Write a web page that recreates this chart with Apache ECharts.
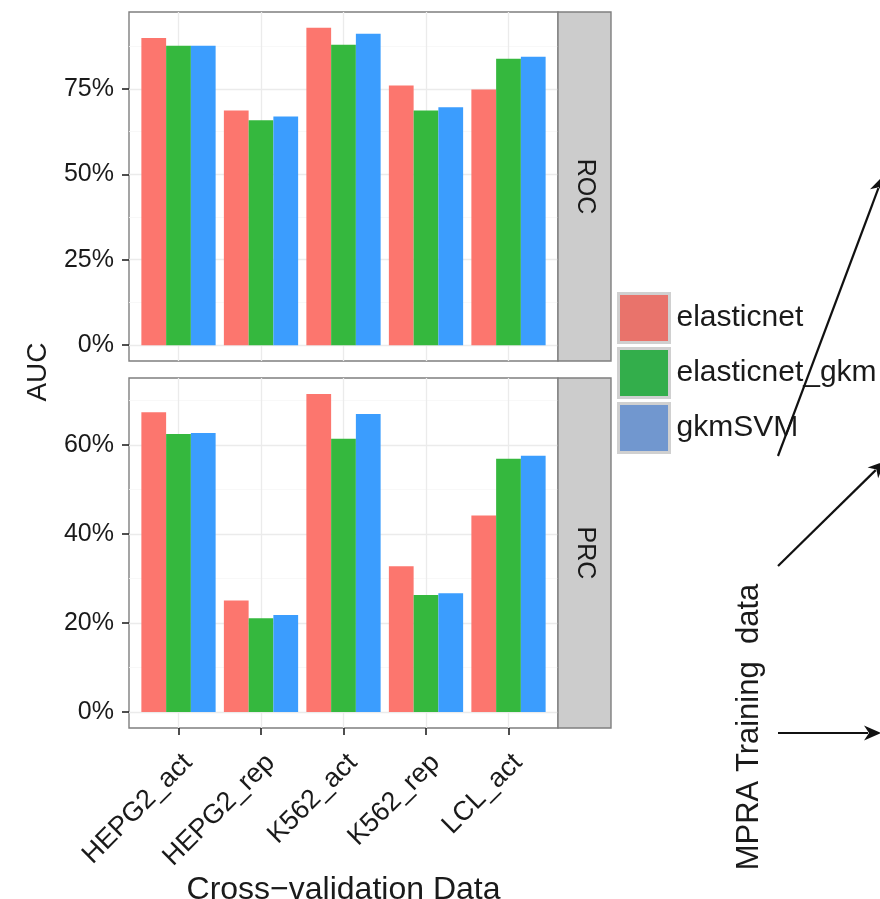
<!DOCTYPE html>
<html><head><meta charset="utf-8">
<script src="https://cdn.jsdelivr.net/npm/echarts@6/dist/echarts.min.js"></script>
<style>html,body{margin:0;padding:0;background:#fff}#chart{width:880px;height:899px}</style>
</head><body><div id="chart"></div>
<script>
// ---- data ----
const categories = ['HEPG2_act', 'HEPG2_rep', 'K562_act', 'K562_rep', 'LCL_act'];
const seriesNames = ['elasticnet', 'elasticnet_gkm', 'gkmSVM'];
const facetLabels = ['ROC', 'PRC'];
const rocElasticnet    = [89.9, 68.7, 92.9, 76.0, 74.8];
const rocElasticnetGkm = [87.6, 65.8, 87.9, 68.7, 83.8];
const rocGkmSVM        = [87.6, 66.9, 91.1, 69.6, 84.4];
const prcElasticnet    = [67.4, 25.1, 71.5, 32.8, 44.2];
const prcElasticnetGkm = [62.5, 21.1, 61.4, 26.3, 56.9];
const prcGkmSVM        = [62.7, 21.8, 67.0, 26.7, 57.6];
const rocTicks = [0, 25, 50, 75];
const rocMinorTicks = [12.5, 37.5, 62.5, 87.5];
const prcTicks = [0, 20, 40, 60];
const prcMinorTicks = [10, 30, 50, 70];
const xTitle = 'Cross\u2212validation Data';
const yTitle = 'AUC';
const sideLabel = 'MPRA Training  data';

// ---- styling ----
const FONT = 'Liberation Sans';
const TXT = '#1a1a1a';
const barColors = ['#FC766E', '#35B83E', '#3B9DFE'];
const legendColors = ['#E9736B', '#33AE4B', '#7197CF'];

const panels = [
  { top: 12,  height: 349, min: -4.64, max: 97.5,  ticks: rocTicks, minor: rocMinorTicks,
    data: [rocElasticnet, rocElasticnetGkm, rocGkmSVM], label: facetLabels[0] },
  { top: 378, height: 350, min: -3.57, max: 75.07, ticks: prcTicks, minor: prcMinorTicks,
    data: [prcElasticnet, prcElasticnetGkm, prcGkmSVM], label: facetLabels[1] }
];

const PANEL_LEFT = 129, PANEL_W = 429, STRIP_W = 53;
const band = PANEL_W / (categories.length + 0.2);
const innerLeft = PANEL_LEFT + 0.1 * band;
const innerW = band * categories.length;
const catIdx = categories.map((c, k) => k);

const grid = [], xAxis = [], yAxis = [], series = [], graphic = [];

panels.forEach((p, i) => {
  const isBottom = i === panels.length - 1;
  grid.push({ left: PANEL_LEFT, top: p.top, width: PANEL_W, height: p.height, show: true,
    backgroundColor: '#fff', borderColor: '#7F7F7F', borderWidth: 1.4, outerBoundsMode: 'none', containLabel: false });
  grid.push({ left: innerLeft, top: p.top, width: innerW, height: p.height, show: false,
    outerBoundsMode: 'none', containLabel: false });

  // frame x-axis: vertical gridlines at category centres
  xAxis.push({ gridIndex: 2 * i, type: 'value', min: -0.6, max: categories.length - 0.4, position: 'bottom',
    axisLine: { show: false, onZero: false }, axisTick: { show: false, customValues: catIdx },
    axisLabel: { show: false, customValues: catIdx },
    splitLine: { show: true, lineStyle: { color: '#EBEBEB', width: 1.3 } } });
  // bar x-axis
  xAxis.push({ gridIndex: 2 * i + 1, type: 'category', data: categories, boundaryGap: true, position: 'bottom',
    axisLine: { show: false, onZero: false },
    axisTick: { show: isBottom, alignWithLabel: true, length: 7, lineStyle: { color: '#222', width: 1.6 } },
    axisLabel: { show: isBottom, interval: 0, rotate: 45, align: 'right', verticalAlign: 'top', margin: 21,
      fontSize: 27, color: TXT, fontFamily: FONT },
    splitLine: { show: false },
    name: isBottom ? xTitle : '', nameLocation: 'middle', nameGap: 133,
    nameTextStyle: { fontSize: 32, color: TXT, fontFamily: FONT } });

  // major y
  yAxis.push({ gridIndex: 2 * i, type: 'value', min: p.min, max: p.max, position: 'left',
    axisLine: { show: false, onZero: false },
    axisTick: { show: true, length: 7, customValues: p.ticks, lineStyle: { color: '#222', width: 1.6 } },
    axisLabel: { customValues: p.ticks, formatter: '{value}%', fontSize: 25, color: TXT, margin: 15, fontFamily: FONT },
    splitLine: { show: true, lineStyle: { color: '#EBEBEB', width: 1.3 } }, z: 1 });
  // minor y
  yAxis.push({ gridIndex: 2 * i, type: 'value', min: p.min, max: p.max, position: 'right',
    axisLine: { show: false, onZero: false }, axisTick: { show: false, customValues: p.minor },
    axisLabel: { show: false, customValues: p.minor },
    splitLine: { show: true, lineStyle: { color: '#F6F6F6', width: 0.8 } }, z: 0 });
  // bar y
  yAxis.push({ gridIndex: 2 * i + 1, type: 'value', min: p.min, max: p.max, show: false });

  p.data.forEach((vals, s) => {
    series.push({ type: 'bar', name: seriesNames[s], xAxisIndex: 2 * i + 1, yAxisIndex: 3 * i + 2,
      data: vals, itemStyle: { color: barColors[s] }, barGap: '0%', barCategoryGap: '10%',
      animation: false, silent: true });
  });

  // facet strip
  graphic.push({ type: 'rect', z: 5, shape: { x: PANEL_LEFT + PANEL_W, y: p.top, width: STRIP_W, height: p.height },
    style: { fill: '#CCCCCC', stroke: '#7F7F7F', lineWidth: 1.4 } });
  graphic.push({ type: 'text', z: 6, x: PANEL_LEFT + PANEL_W + STRIP_W / 2, y: p.top + p.height / 2,
    rotation: -Math.PI / 2,
    style: { text: p.label, fontSize: 25, fontFamily: FONT, fill: TXT, align: 'center', verticalAlign: 'middle' } });
});

// y title
graphic.push({ type: 'text', z: 6, x: 38, y: 372, rotation: Math.PI / 2,
  style: { text: yTitle, fontSize: 28, fontFamily: FONT, fill: TXT, align: 'center', verticalAlign: 'middle' } });
// side annotation
graphic.push({ type: 'text', z: 6, x: 749, y: 727, rotation: Math.PI / 2,
  style: { text: sideLabel, fontSize: 31, fontFamily: FONT, fill: TXT, align: 'center', verticalAlign: 'middle' } });

// arrows (annotation)
const arrows = [[778, 456, 883, 176], [778, 566, 885, 461], [778, 733, 881, 733]];
arrows.forEach(a => {
  const [x1, y1, x2, y2] = a;
  const dx = x2 - x1, dy = y2 - y1, L = Math.hypot(dx, dy);
  const ux = dx / L, uy = dy / L, hl = 17, hw = 7.5;
  const bx = x2 - ux * hl, by = y2 - uy * hl;
  graphic.push({ type: 'line', z: 6, shape: { x1, y1, x2: bx + ux * 4, y2: by + uy * 4 },
    style: { stroke: '#111', lineWidth: 2.2 } });
  graphic.push({ type: 'polygon', z: 6, shape: { points: [[x2, y2], [bx - uy * hw, by + ux * hw], [bx + ux * 5, by + uy * 5], [bx + uy * hw, by - ux * hw]] },
    style: { fill: '#111' } });
});

const option = {
  backgroundColor: '#fff',
  animation: false,
  grid, xAxis, yAxis, series, graphic,
  legend: {
    orient: 'vertical', left: 617, top: 292, padding: 0, itemWidth: 51, itemHeight: 49, itemGap: 3,
    icon: 'rect', selectedMode: false,
    textStyle: { fontSize: 30, color: TXT, fontFamily: FONT, padding: [0, 0, 0, 2] },
    data: seriesNames.map((n, k) => ({ name: n, itemStyle: { color: legendColors[k], borderColor: '#D0D0D0', borderWidth: 3 } }))
  }
};
const chart = echarts.init(document.getElementById('chart'), null, { renderer: 'canvas' });
chart.setOption(option);
</script></body></html>
